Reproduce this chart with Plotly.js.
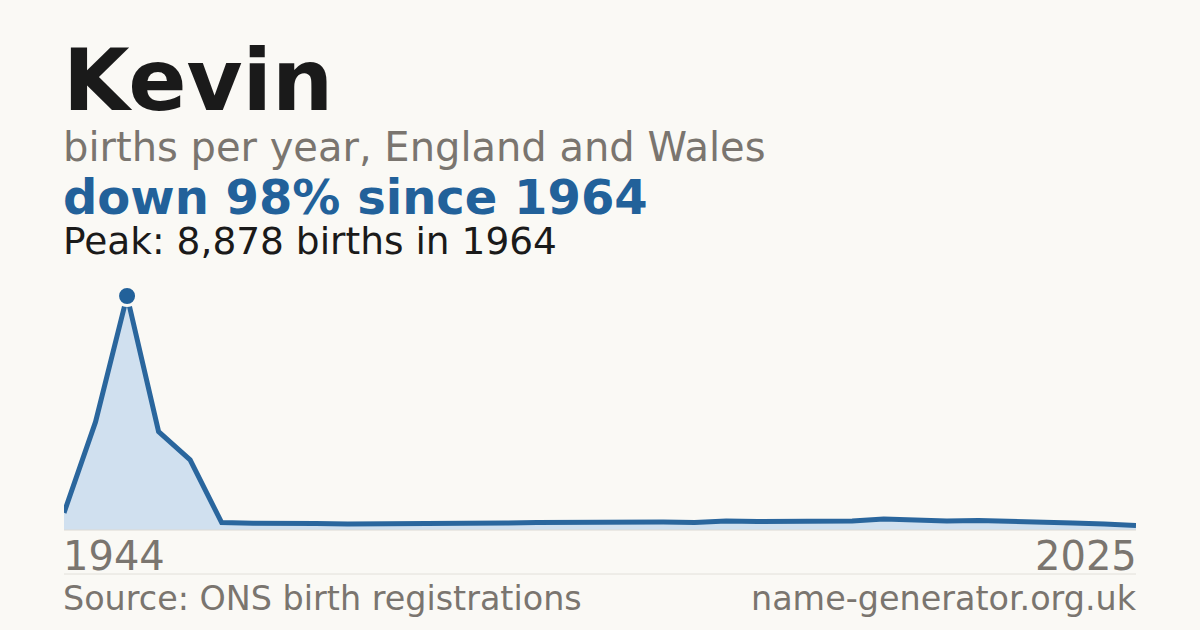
<!DOCTYPE html>
<html>
<head>
<meta charset="utf-8">
<script src="https://cdn.plot.ly/plotly-3.0.1.min.js"></script>
<style>
  html, body { margin: 0; padding: 0; background: #faf9f5; }
  #chart { width: 1200px; height: 630px; }
</style>
</head>
<body>
<div id="chart"></div>
<script>
// Kevin - births per year, England and Wales (ONS)
const years = ['1944', '1954', '1964', '1974', '1984', '1994',
  '1997', '1998', '1999', '2000', '2001', '2002', '2003', '2004', '2005',
  '2006', '2007', '2008', '2009', '2010', '2011', '2012', '2013', '2014',
  '2015', '2016', '2017', '2018', '2019', '2020', '2021', '2022', '2023',
  '2024', '2025'];
const births = [650, 4100, 8878, 3730, 2660, 280,
  255, 265, 245, 230, 230, 230, 245, 265, 265,
  285, 300, 285, 285, 300, 285, 340, 320, 320,
  340, 340, 420, 360, 340, 360, 340, 300, 265,
  230, 170];

const name = 'Kevin';
const subtitle = 'births per year, England and Wales';
const source = 'Source: ONS birth registrations';
const site = 'name-generator.org.uk';

const BG = '#faf9f5';
const BLUE = '#22619a';
const GREY = '#7a756f';
const INK = '#1a1a1a';
const FONT = 'DejaVu Sans, Verdana, sans-serif';

const peak = Math.max(...births);
const peakIdx = births.indexOf(peak);
const peakYear = years[peakIdx];
const last = births[births.length - 1];
const drop = Math.round((1 - last / peak) * 100);

// plot box: top 280px, bottom 530px
const TOP = 280, BOT = 530;
const py = px => (BOT - px) / (BOT - TOP);

const area = {
  x: years, y: births, type: 'scatter', mode: 'lines',
  fill: 'tozeroy', fillcolor: '#d0e0ef',
  line: { color: '#2a669d', width: 5, shape: 'linear' },
  cliponaxis: false, hoverinfo: 'skip'
};
const peakDot = {
  x: [peakYear], y: [peak], type: 'scatter', mode: 'markers',
  marker: { color: BLUE, size: 19, line: { color: BG, width: 3 } },
  cliponaxis: false, hoverinfo: 'skip'
};

function note(text, y, size, color, bold, opts = {}) {
  return Object.assign({
    text: bold ? '<b>' + text + '</b>' : text,
    xref: 'paper', yref: 'paper', x: 0, y: py(y),
    xanchor: 'left', yanchor: 'middle', showarrow: false,
    borderpad: 0, borderwidth: 0, xshift: -1,
    font: { family: FONT, size: size, color: color }
  }, opts);
}

const layout = {
  width: 1200, height: 630,
  margin: { l: 64, r: 64, t: TOP, b: 630 - BOT },
  paper_bgcolor: BG, plot_bgcolor: BG,
  showlegend: false,
  xaxis: { type: 'category', range: [0, years.length - 1], visible: false, fixedrange: true },
  yaxis: { range: [0, peak * 250 / 234], visible: false, fixedrange: true },
  shapes: [
    { type: 'line', xref: 'paper', yref: 'paper', x0: 0, x1: 1, y0: 0, y1: 0,
      line: { color: '#dcdad4', width: 1 } },
    { type: 'line', xref: 'paper', yref: 'paper', x0: 0, x1: 1, y0: py(574), y1: py(574),
      line: { color: '#e2e0da', width: 1 } }
  ],
  annotations: [
    note(name, 80, 86, INK, true),
    note(subtitle, 147, 40, GREY, false),
    note('down ' + drop + '% since ' + peakYear, 197, 48, BLUE, true, { height: 50 }),
    note('Peak: ' + peak.toLocaleString('en-GB') + ' births in ' + peakYear, 241, 37.5, INK, false, { height: 38 }),
    note(years[0], 556, 40, GREY, false),
    note(years[years.length - 1], 556, 40, GREY, false, { x: 1, xanchor: 'right', xshift: 1 }),
    note(source, 598, 33.4, GREY, false),
    note(site, 598, 33.4, GREY, false, { x: 1, xanchor: 'right', xshift: 1 })
  ]
};

Plotly.newPlot('chart', [area, peakDot], layout, { staticPlot: true, displayModeBar: false });
</script>
</body>
</html>
